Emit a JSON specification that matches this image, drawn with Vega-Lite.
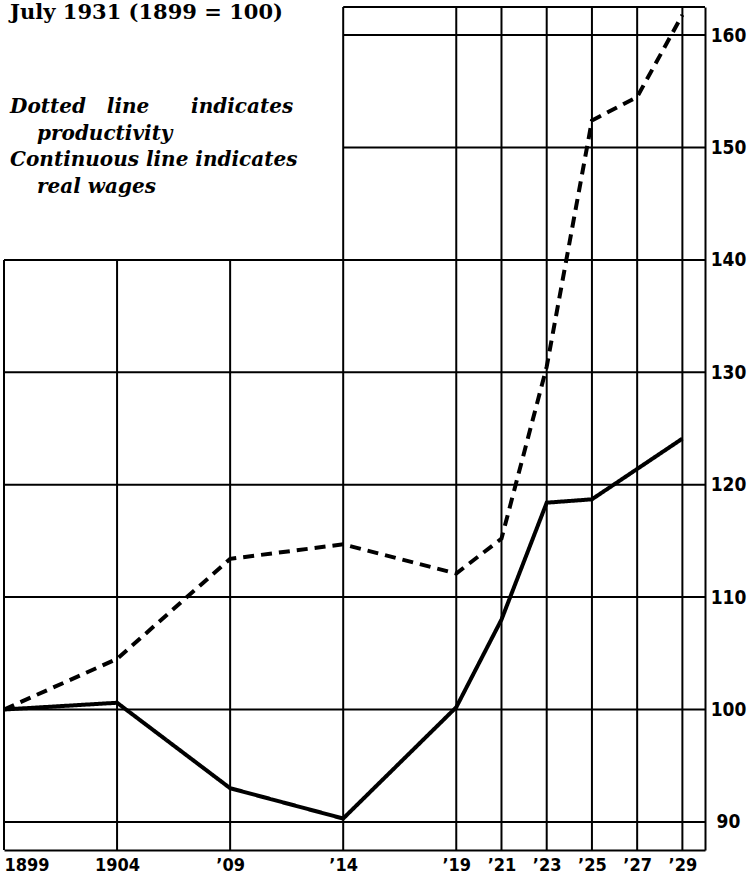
{
  "$schema": "https://vega.github.io/schema/vega-lite/v6.json",
  "width": 701,
  "height": 843,
  "autosize": {"type": "none"},
  "padding": {"left": 4, "top": 7, "right": 42, "bottom": 26},
  "background": "white",
  "config": {
    "view": {"stroke": null},
    "axisX": {"domainColor": "black", "domainWidth": 2, "ticks": false, "tickSize": 0, "grid": false, "labelPadding": 6, "labelFont": "DejaVu Sans Condensed, DejaVu Sans", "labelFontWeight": "bold", "labelFontSize": 18, "labelColor": "black", "labelBaseline": "top", "labelFlush": true, "labelOverlap": false},
    "axisY": {"domainColor": "black", "domainWidth": 2, "ticks": false, "tickSize": 0, "grid": false, "labelPadding": 23, "labelFont": "DejaVu Sans Condensed, DejaVu Sans", "labelFontWeight": "bold", "labelFontSize": 19, "labelColor": "black", "labelAlign": "center", "labelBaseline": "middle"}
  },
  "datasets": {
    "years": [{"year": 1899}, {"year": 1904}, {"year": 1909}, {"year": 1914}, {"year": 1919}, {"year": 1921}, {"year": 1923}, {"year": 1925}, {"year": 1927}, {"year": 1929}],
    "levels": [{"value": 90}, {"value": 100}, {"value": 110}, {"value": 120}, {"value": 130}, {"value": 140}, {"value": 150}, {"value": 160}],
    "series": [
      {"year": 1899, "value": 100.0, "series": "Real wages"},
      {"year": 1904, "value": 100.6, "series": "Real wages"},
      {"year": 1909, "value": 93.0, "series": "Real wages"},
      {"year": 1914, "value": 90.3, "series": "Real wages"},
      {"year": 1919, "value": 100.2, "series": "Real wages"},
      {"year": 1921, "value": 108.0, "series": "Real wages"},
      {"year": 1923, "value": 118.4, "series": "Real wages"},
      {"year": 1925, "value": 118.7, "series": "Real wages"},
      {"year": 1927, "value": 121.4, "series": "Real wages"},
      {"year": 1929, "value": 124.1, "series": "Real wages"},
      {"year": 1899, "value": 100.0, "series": "Productivity"},
      {"year": 1904, "value": 104.5, "series": "Productivity"},
      {"year": 1909, "value": 113.4, "series": "Productivity"},
      {"year": 1914, "value": 114.7, "series": "Productivity"},
      {"year": 1919, "value": 112.1, "series": "Productivity"},
      {"year": 1921, "value": 115.2, "series": "Productivity"},
      {"year": 1923, "value": 130.5, "series": "Productivity"},
      {"year": 1925, "value": 152.4, "series": "Productivity"},
      {"year": 1927, "value": 154.5, "series": "Productivity"},
      {"year": 1929, "value": 161.8, "series": "Productivity"}
    ]
  },
  "layer": [
    {
      "data": {"name": "series"},
      "mark": {"type": "line", "color": "black", "strokeWidth": 4, "strokeCap": "butt", "strokeJoin": "miter"},
      "encoding": {
        "x": {"field": "year", "type": "quantitative", "title": null, "scale": {"domain": [1899, 1930], "nice": false, "zero": false},
              "axis": {"orient": "bottom", "title": null, "values": [1899, 1904, 1909, 1914, 1919, 1921, 1923, 1925, 1927, 1929], "labelExpr": "datum.value < 1905 ? toString(datum.value) : '\u2019' + slice(toString(datum.value), 2)"}},
        "y": {"field": "value", "type": "quantitative", "title": null, "scale": {"domain": [87.5, 162.5], "nice": false, "zero": false},
              "axis": {"orient": "right", "title": null, "values": [90, 100, 110, 120, 130, 140, 150, 160]}},
        "detail": {"field": "series"},
        "strokeDash": {"field": "series", "type": "nominal", "legend": null, "scale": {"domain": ["Productivity", "Real wages"], "range": [[11, 7], [1, 0]]}}
      }
    },
    {
      "data": {"name": "years"},
      "transform": [{"filter": "datum.year < 1914"}],
      "mark": {"type": "rule", "color": "black", "strokeWidth": 2},
      "encoding": {
        "x": {"field": "year", "type": "quantitative", "title": null},
        "y": {"datum": 87.5},
        "y2": {"datum": 140}
      }
    },
    {
      "data": {"name": "years"},
      "transform": [{"filter": "datum.year >= 1914"}],
      "mark": {"type": "rule", "color": "black", "strokeWidth": 2},
      "encoding": {
        "x": {"field": "year", "type": "quantitative", "title": null}
      }
    },
    {
      "data": {"name": "levels"},
      "transform": [{"filter": "datum.value <= 140"}],
      "mark": {"type": "rule", "color": "black", "strokeWidth": 2},
      "encoding": {
        "y": {"field": "value", "type": "quantitative", "title": null}
      }
    },
    {
      "data": {"name": "levels"},
      "transform": [{"filter": "datum.value > 140"}],
      "mark": {"type": "rule", "color": "black", "strokeWidth": 2},
      "encoding": {
        "y": {"field": "value", "type": "quantitative", "title": null},
        "x": {"datum": 1914},
        "x2": {"datum": 1930}
      }
    },
    {
      "data": {"values": [{"edge": "top"}]},
      "mark": {"type": "rule", "color": "black", "strokeWidth": 2},
      "encoding": {
        "y": {"datum": 162.5},
        "x": {"datum": 1914},
        "x2": {"datum": 1930}
      }
    },
    {
      "data": {"values": [{"label": "title"}]},
      "mark": {"type": "text", "text": "July 1931 (1899 = 100)", "font": "DejaVu Serif", "fontWeight": "bold", "fontSize": 21, "align": "left", "baseline": "alphabetic", "color": "black"},
      "encoding": {
        "x": {"datum": 1899.27},
        "y": {"datum": 161.4}
      }
    },
    {
      "data": {"values": [{"label": "key1"}]},
      "mark": {"type": "text", "text": "Dotted\u00a0\u00a0\u00a0line\u00a0\u00a0\u00a0\u00a0\u00a0\u00a0indicates", "font": "DejaVu Serif", "fontWeight": "bold", "fontStyle": "italic", "fontSize": 20, "align": "left", "baseline": "alphabetic", "color": "black"},
      "encoding": {"x": {"datum": 1899.27}, "y": {"datum": 153.06}}
    },
    {
      "data": {"values": [{"label": "key2"}]},
      "mark": {"type": "text", "text": "productivity", "font": "DejaVu Serif", "fontWeight": "bold", "fontStyle": "italic", "fontSize": 20, "align": "left", "baseline": "alphabetic", "color": "black"},
      "encoding": {"x": {"datum": 1900.46}, "y": {"datum": 150.69}}
    },
    {
      "data": {"values": [{"label": "key3"}]},
      "mark": {"type": "text", "text": "Continuous\u00a0line\u00a0indicates", "font": "DejaVu Serif", "fontWeight": "bold", "fontStyle": "italic", "fontSize": 20, "align": "left", "baseline": "alphabetic", "color": "black"},
      "encoding": {"x": {"datum": 1899.27}, "y": {"datum": 148.32}}
    },
    {
      "data": {"values": [{"label": "key4"}]},
      "mark": {"type": "text", "text": "real wages", "font": "DejaVu Serif", "fontWeight": "bold", "fontStyle": "italic", "fontSize": 20, "align": "left", "baseline": "alphabetic", "color": "black"},
      "encoding": {"x": {"datum": 1900.46}, "y": {"datum": 145.95}}
    }
  ]
}
